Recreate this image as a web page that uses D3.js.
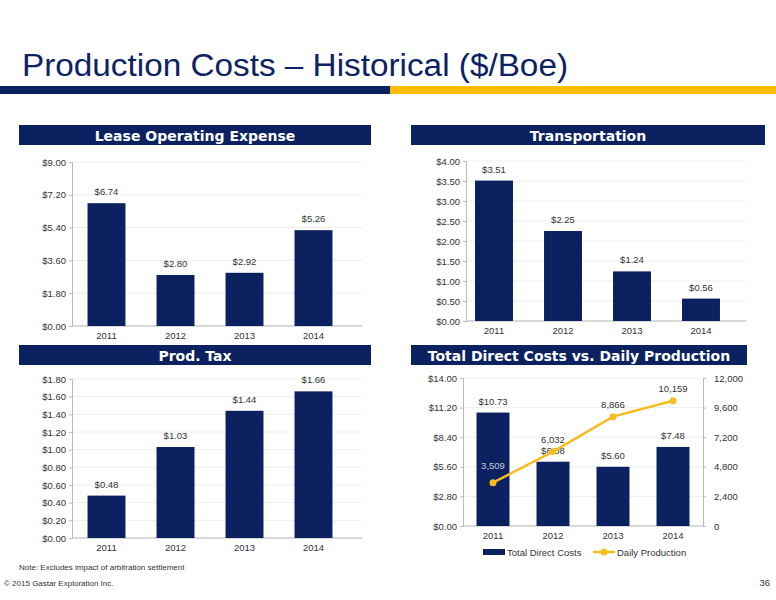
<!DOCTYPE html>
<html><head><meta charset="utf-8">
<script src="https://cdn.jsdelivr.net/npm/d3@7"></script>
<style>body{margin:0;background:#fff}svg{font-family:"Liberation Sans",Arial,sans-serif}</style>
</head><body><svg id="c" width="776" height="600"></svg>
<script>
const years=["2011","2012","2013","2014"];
const loe=[6.74,2.80,2.92,5.26];
const loeTicks=[0,1.8,3.6,5.4,7.2,9];
const transp=[3.51,2.25,1.24,0.56];
const transpTicks=[0,0.5,1,1.5,2,2.5,3,3.5,4];
const ptax=[0.48,1.03,1.44,1.66];
const ptaxTicks=[0,0.2,0.4,0.6,0.8,1,1.2,1.4,1.6,1.8];
const tdc=[10.73,6.08,5.60,7.48];
const tdcTicks=[0,2.8,5.6,8.4,11.2,14];
const prod=[3509,6032,8866,10159];
const prodTicks=[0,2400,4800,7200,9600,12000];

const NAVY="#0c2260",GOLD="#f5bd1f",TXT="#333";
const svg=d3.select("#c");
svg.append("text").attr("x",22).attr("y",76).attr("font-size",31).attr("fill","#0c2265")
 .attr("font-family","'Liberation Sans',Arial").attr("textLength",546).attr("lengthAdjust","spacingAndGlyphs").text("Production Costs – Historical ($/Boe)");
svg.append("rect").attr("x",0).attr("y",86).attr("width",390).attr("height",8).attr("fill",NAVY);
svg.append("rect").attr("x",390).attr("y",86).attr("width",386).attr("height",8).attr("fill","#fbbd00");

function header(x,y,w,t){
 svg.append("rect").attr("x",x).attr("y",y).attr("width",w).attr("height",20).attr("fill",NAVY);
 svg.append("text").attr("x",x+w/2).attr("y",y+15.5).attr("text-anchor","middle").attr("fill","#fff")
  .attr("font-size",14).attr("font-weight","bold").attr("font-family","'DejaVu Sans',Arial").text(t);
}
header(19,125,352,"Lease Operating Expense");
header(411,125,354,"Transportation");
header(19,345,352,"Prod. Tax");
header(411,345,336,"Total Direct Costs vs. Daily Production");

function panel(o){
 const x=d3.scaleBand().domain(years).range(o.br).paddingInner(0.45).paddingOuter(0.225);
 const y=d3.scaleLinear().domain([0,o.max]).range([o.yb,o.yt]);
 const g=svg.append("g");
 g.selectAll(".gl").data(o.ticks).join("line").attr("x1",o.x0).attr("x2",o.x1)
  .attr("y1",d=>y(d)).attr("y2",d=>y(d)).attr("stroke","#eee");
 const ax=g.append("g").attr("transform",`translate(${o.x0},0)`).call(d3.axisLeft(y).tickValues(o.ticks).tickSize(3).tickFormat(d=>"$"+d.toFixed(2)));
 ax.select(".domain").attr("stroke","#bbb");ax.selectAll("line").attr("stroke","#bbb");
 ax.selectAll("text").attr("font-size",9.5).attr("fill",TXT).attr("font-family","Liberation Sans");
 g.append("line").attr("x1",o.x0).attr("x2",o.x1).attr("y1",o.yb).attr("y2",o.yb).attr("stroke","#bbb");
 const bx=g.append("g").attr("transform",`translate(0,${o.yb})`).call(d3.axisBottom(x).tickSize(0).tickPadding(6));
 bx.select(".domain").remove();
 bx.selectAll("text").attr("font-size",9.5).attr("fill",TXT).attr("font-family","Liberation Sans");
 g.selectAll(".b").data(o.vals).join("rect").attr("x",(d,i)=>x(years[i])).attr("width",x.bandwidth())
  .attr("y",d=>y(d)).attr("height",d=>o.yb-y(d)).attr("fill",NAVY);
 g.selectAll(".l").data(o.vals).join("text").attr("x",(d,i)=>x(years[i])+x.bandwidth()/2).attr("y",d=>y(d)-8)
  .attr("text-anchor","middle").attr("font-size",9.5).attr("fill",TXT).text(d=>"$"+d.toFixed(2));
 return {x,y,g};
}
panel({x0:72,x1:362,br:[72,348],yt:162,yb:326,max:9,ticks:loeTicks,vals:loe});
panel({x0:466,x1:746,br:[459.5,735.5],yt:161,yb:321,max:4,ticks:transpTicks,vals:transp});
panel({x0:72,x1:362,br:[72,348],yt:379,yb:538,max:1.8,ticks:ptaxTicks,vals:ptax});
const p=panel({x0:463,x1:703,br:[463,703],yt:378,yb:526,max:14,ticks:tdcTicks,vals:tdc});
const y2=d3.scaleLinear().domain([0,12000]).range([526,378]);
const ra=svg.append("g").attr("transform","translate(703,0)").call(d3.axisRight(y2).tickValues(prodTicks).tickSize(3).tickPadding(8).tickFormat(d3.format(",")));
ra.select(".domain").attr("stroke","#bbb");ra.selectAll("line").attr("stroke","#bbb");
ra.selectAll("text").attr("font-size",9.5).attr("fill",TXT).attr("font-family","Liberation Sans");
const cx=i=>p.x(years[i])+p.x.bandwidth()/2;
svg.append("path").datum(prod).attr("d",d3.line().x((d,i)=>cx(i)).y(d=>y2(d))).attr("fill","none").attr("stroke",GOLD).attr("stroke-width",2.5);
svg.selectAll(".pt").data(prod).join("circle").attr("cx",(d,i)=>cx(i)).attr("cy",d=>y2(d)).attr("r",3.5).attr("fill",GOLD);
svg.selectAll(".pl").data(prod).join("text").attr("x",(d,i)=>cx(i)).attr("y",d=>y2(d)-(d<5000?14:9))
 .attr("text-anchor","middle").attr("font-size",9.5).attr("fill",(d,i)=>i==0?"#c8ccd8":TXT).text(d3.format(","));
svg.append("rect").attr("x",483).attr("y",549).attr("width",22).attr("height",6).attr("fill",NAVY);
svg.append("text").attr("x",507).attr("y",556).attr("font-size",9.5).attr("fill",TXT).text("Total Direct Costs");
svg.append("line").attr("x1",593).attr("x2",615).attr("y1",552).attr("y2",552).attr("stroke",GOLD).attr("stroke-width",2.5);
svg.append("circle").attr("cx",604).attr("cy",552).attr("r",3.5).attr("fill",GOLD);
svg.append("text").attr("x",617).attr("y",556).attr("font-size",9.5).attr("fill",TXT).text("Daily Production");
svg.append("text").attr("x",19).attr("y",570).attr("font-size",8).attr("fill",TXT).text("Note: Excludes impact of arbitration settlement");
svg.append("text").attr("x",4).attr("y",586).attr("font-size",8).attr("fill",TXT).text("© 2015 Gastar Exploration Inc.");
svg.append("text").attr("x",770).attr("y",586).attr("font-size",9.5).attr("text-anchor","end").attr("fill",TXT).text("36");
</script></body></html>
